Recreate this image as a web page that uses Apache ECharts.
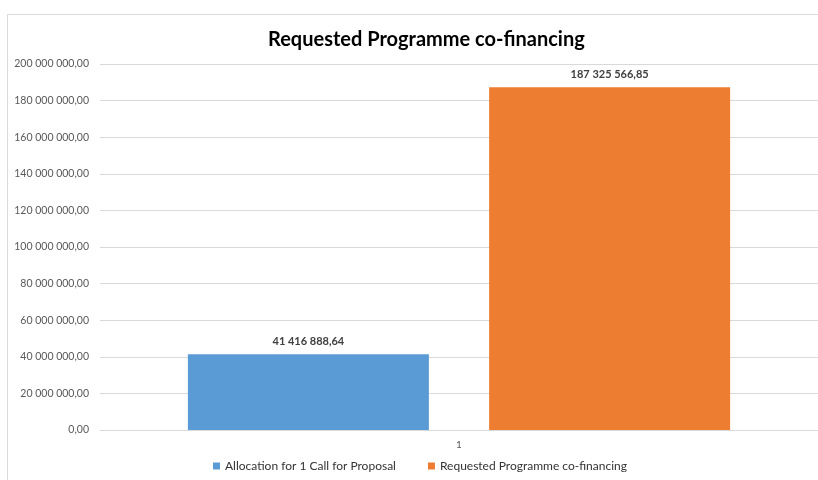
<!DOCTYPE html>
<html>
<head>
<meta charset="utf-8">
<script src="https://cdn.jsdelivr.net/npm/echarts@6/dist/echarts.min.js"></script>
<style>
  html, body { margin: 0; padding: 0; background: #fff; }
  #chart { width: 818px; height: 480px; }
</style>
</head>
<body>
<div id="chart"></div>
<script>
const categories = ['1'];
const seriesNames = ['Allocation for 1 Call for Proposal', 'Requested Programme co-financing'];
const allocationValues = [41416888.64];
const requestedValues = [187325566.85];
const colors = ['#5b9bd5', '#ed7d31'];

// 1234567.8 -> "1 234 567,80"
function fmt(v) {
  let parts = Number(v).toFixed(2).split('.');
  parts[0] = parts[0].replace(/\B(?=(\d{3})+(?!\d))/g, ' ');
  return parts[0] + ',' + parts[1];
}

const font = 'Lato, "Open Sans", sans-serif';

let chart = echarts.init(document.getElementById('chart'));

let labelStyle = {
  show: true,
  position: 'top',
  distance: 7,
  color: '#404040',
  fontFamily: font,
  fontWeight: 'bold',
  fontSize: 11,
  formatter: (p) => fmt(p.value)
};

let option = {
  backgroundColor: '#fff',
  animation: false,
  color: colors,
  title: {
    text: 'Requested Programme co-financing',
    left: 263,
    top: 25,
    textStyle: {
      color: '#000',
      fontFamily: font,
      fontWeight: 'bold',
      fontSize: 20
    }
  },
  graphic: [{
    type: 'rect',
    shape: { x: 7.5, y: 14.5, width: 830, height: 500 },
    style: { fill: 'none', stroke: '#d9d9d9', lineWidth: 1 },
    silent: true,
    z: -1
  }],
  legend: {
    bottom: 3,
    left: 208,
    itemWidth: 7,
    itemHeight: 7,
    itemGap: 32,
    icon: 'rect',
    textStyle: {
      color: '#333',
      fontFamily: font,
      fontSize: 12
    },
    data: seriesNames
  },
  grid: {
    left: 100,
    right: -2,
    top: 64,
    bottom: 50
  },
  xAxis: {
    type: 'category',
    data: categories,
    axisLine: { lineStyle: { color: '#d9d9d9' } },
    axisTick: { show: false },
    axisLabel: {
      color: '#595959',
      fontFamily: font,
      fontSize: 10,
      margin: 10
    }
  },
  yAxis: {
    type: 'value',
    min: 0,
    max: 200000000,
    interval: 20000000,
    axisLine: { show: false },
    axisTick: { show: false },
    splitLine: { lineStyle: { color: '#d9d9d9' } },
    axisLabel: {
      color: '#595959',
      fontFamily: font,
      fontSize: 10.5,
      margin: 11,
      formatter: (v) => fmt(v)
    }
  },
  series: [{
    name: seriesNames[0],
    type: 'bar',
    barWidth: 241,
    barGap: '25%',
    data: allocationValues,
    label: labelStyle
  }, {
    name: seriesNames[1],
    type: 'bar',
    barWidth: 241,
    barGap: '25%',
    data: requestedValues,
    label: labelStyle
  }]
};

chart.setOption(option);
</script>
</body>
</html>
